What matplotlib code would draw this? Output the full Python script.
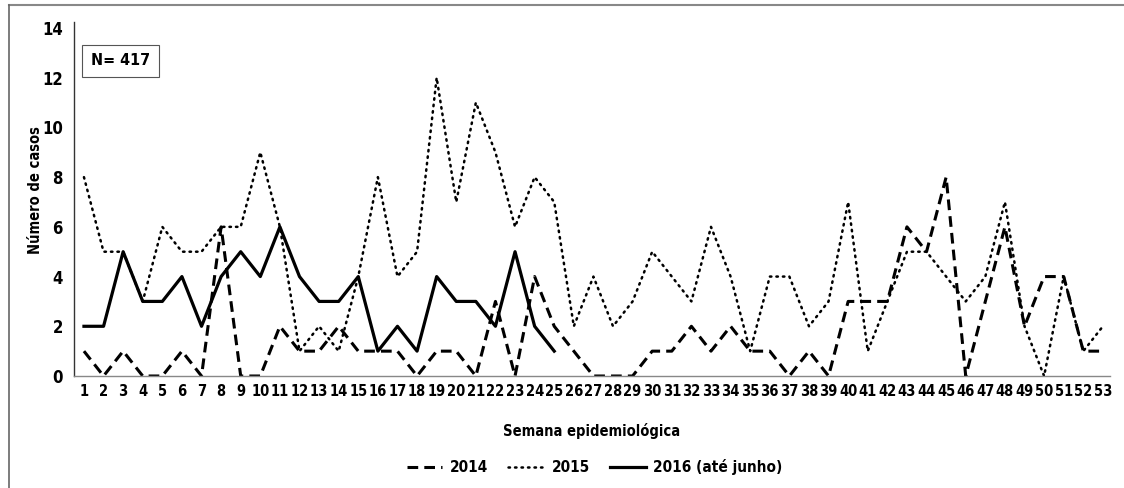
import matplotlib
matplotlib.use('Agg')
import matplotlib.pyplot as plt
from matplotlib.lines import Line2D

plt.rcParams['font.family'] = ['DejaVu Sans']
plt.rcParams['font.stretch'] = 'condensed'
plt.rcParams['font.weight'] = 'bold'
plt.rcParams['axes.labelweight'] = 'bold'

# Semanas epidemiológicas
semanas = list(range(1, 54))

casos_2014 = [1, 0, 1, 0, 0, 1, 0, 6, 0, 0,
              2, 1, 1, 2, 1, 1, 1, 0, 1, 1,
              0, 3, 0, 4, 2, 1, 0, 0, 0, 1,
              1, 2, 1, 2, 1, 1, 0, 1, 0, 3,
              3, 3, 6, 5, 8, 0, 3, 6, 2, 4,
              4, 1, 1]

casos_2015 = [8, 5, 5, 3, 6, 5, 5, 6, 6, 9,
              6, 1, 2, 1, 4, 8, 4, 5, 12, 7,
              11, 9, 6, 8, 7, 2, 4, 2, 3, 5,
              4, 3, 6, 4, 1, 4, 4, 2, 3, 7,
              1, 3, 5, 5, 4, 3, 4, 7, 2, 0,
              4, 1, 2]

# 2016 só até junho (semana 25)
casos_2016 = [2, 2, 5, 3, 3, 4, 2, 4, 5, 4,
              6, 4, 3, 3, 4, 1, 2, 1, 4, 3,
              3, 2, 5, 2, 1]

rotulos = ['2014', '2015', '2016 (até junho)']

estilo_2014 = dict(color='black', lw=2.2, linestyle=(0, (3.5, 2.0)))
estilo_2015 = dict(color='black', lw=1.8, linestyle=(0, (0.6, 2.0)), dash_capstyle='round')
estilo_2016 = dict(color='black', lw=2.3)

fig = plt.figure(figsize=(11.24, 4.88), dpi=100)
ax = fig.add_axes([0.0658, 0.2295, 0.9217, 0.7254])

ax.plot(semanas, casos_2014, **estilo_2014)
ax.plot(semanas, casos_2015, **estilo_2015)
ax.plot(semanas[:len(casos_2016)], casos_2016, **estilo_2016)

ax.set_xlim(0.49, 53.36)
ax.set_ylim(0, 14.24)
ax.set_yticks(range(0, 15, 2))
ax.set_xticks(semanas)
ax.tick_params(length=0, labelsize=10.5, pad=6)
ax.tick_params(axis='y', pad=8, labelsize=12)

for s in ['top', 'right']:
    ax.spines[s].set_visible(False)
ax.spines['left'].set_color('#333333')
ax.spines['left'].set_linewidth(1.0)
ax.spines['bottom'].set_color('#888888')
ax.spines['bottom'].set_linewidth(1.0)

ax.set_ylabel('Número de casos', fontsize=10.5)
ax.yaxis.set_label_coords(-0.030, 0.525)
ax.set_xlabel('Semana epidemiológica', fontsize=10.5, labelpad=17)

ax.text(0.045, 0.89, 'N= 417', transform=ax.transAxes, ha='center', va='center',
        fontsize=11.5, bbox=dict(boxstyle='square,pad=0.55', fc='white', ec='#555555', lw=0.8))

handles = [Line2D([], [], **estilo_2014),
           Line2D([], [], **estilo_2015),
           Line2D([], [], **estilo_2016)]
fig.legend(handles, rotulos, loc='center', bbox_to_anchor=(0.529, 0.043), ncol=3,
           frameon=False, fontsize=11, handlelength=2.35, columnspacing=1.3,
           handletextpad=0.5)

# moldura parcial (topo e esquerda)
fig.add_artist(Line2D([0.008, 1.0], [0.99, 0.99], color='#888888', lw=1.5,
                      transform=fig.transFigure))
fig.add_artist(Line2D([0.008, 0.008], [0.0, 0.99], color='#666666', lw=1.2,
                      transform=fig.transFigure))

fig.savefig('out.png', dpi=100)
